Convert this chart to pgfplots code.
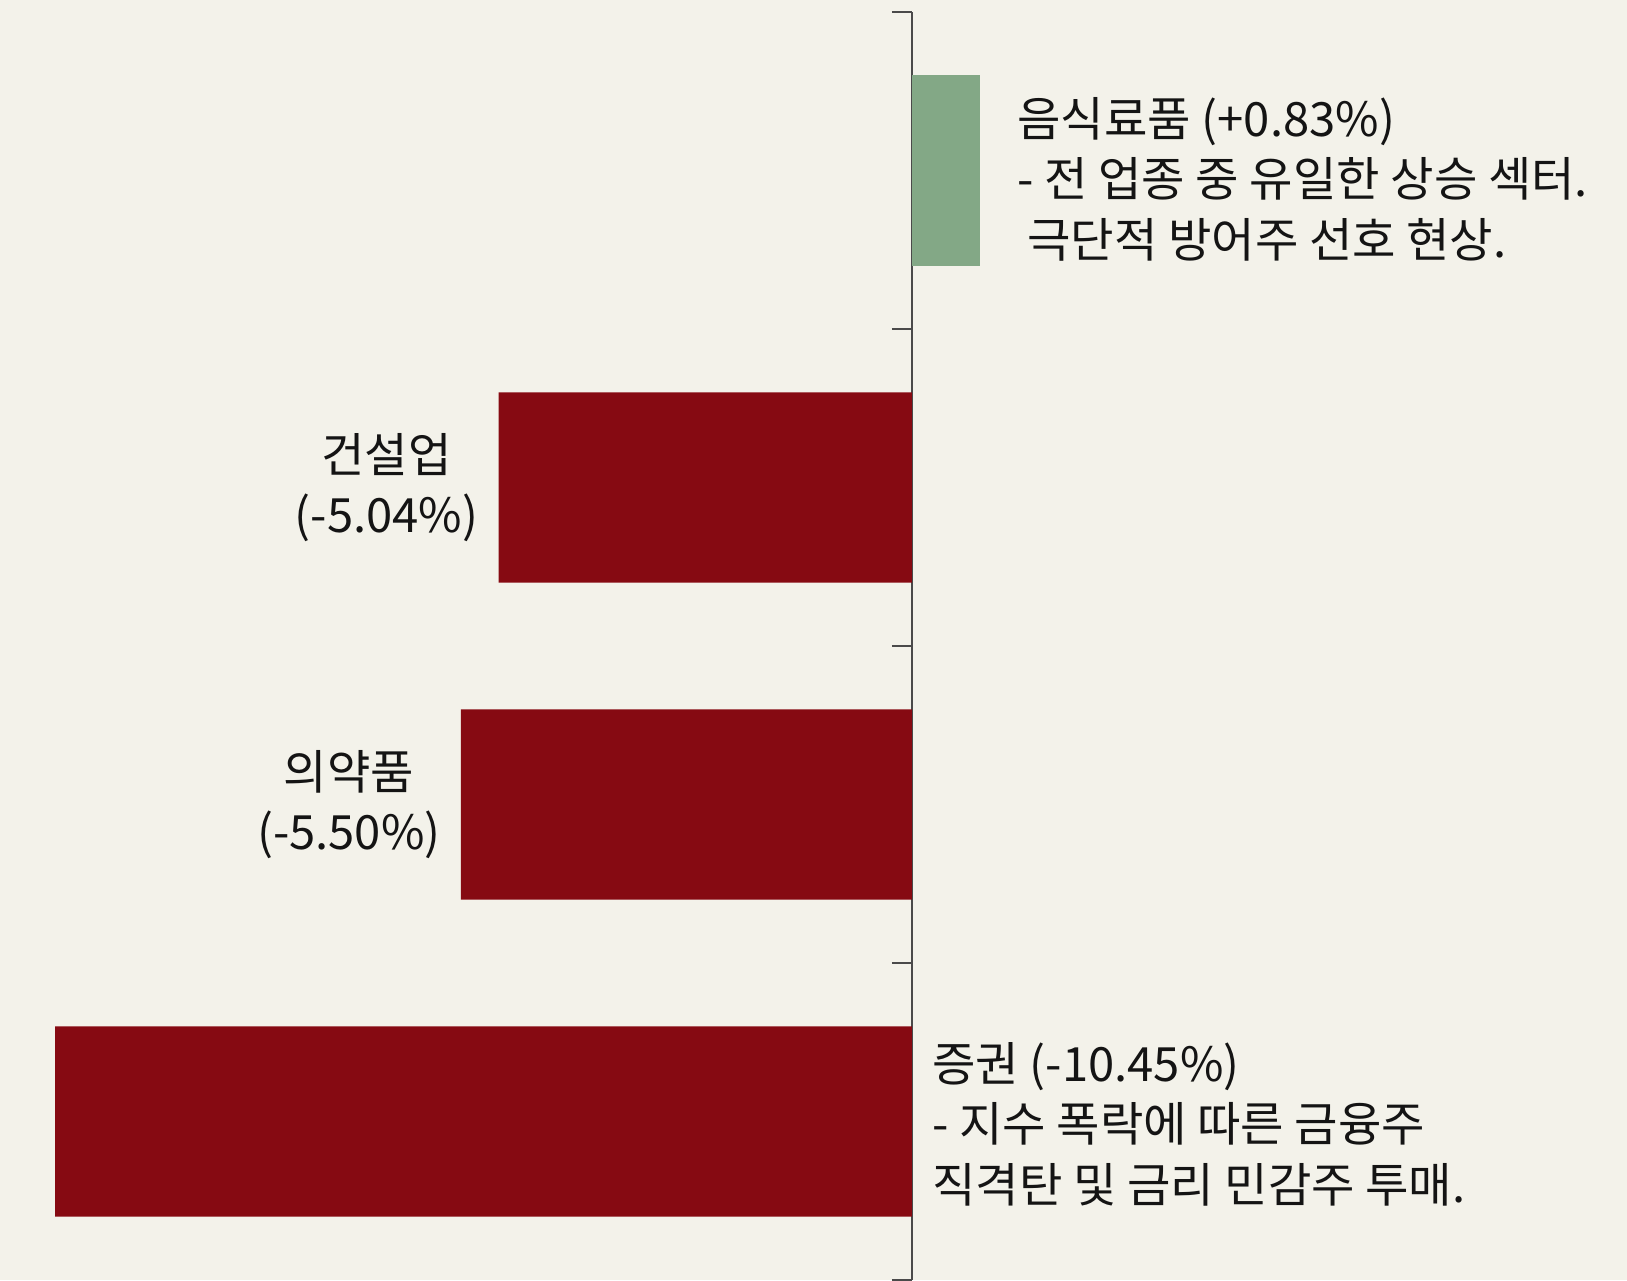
\documentclass[border=0pt]{standalone}
\usepackage{fontspec}
\usepackage{pgfplots}
\pgfplotsset{compat=1.18}
\newfontfamily\cjk{Noto Sans CJK KR}
\definecolor{bg}{HTML}{F3F2EA}
\definecolor{barred}{HTML}{860A12}
\definecolor{bargreen}{HTML}{83A886}
\definecolor{axisgray}{HTML}{4A4A4A}
\definecolor{txt}{HTML}{141414}
\tikzset{lbl/.style={font=\cjk\fontsize{23.6pt}{30.2pt}\selectfont, text=txt, inner sep=0pt}}
\begin{document}
\begin{tikzpicture}
\fill[bg] (0,0) rectangle (813.5pt,640pt);
\begin{axis}[
  at={(0pt,0pt)}, anchor=south west,
  scale only axis, width=813.5pt, height=634pt,
  xmin=-11.122, xmax=8.720,
  ymin=-0.5, ymax=3.5, y dir=reverse,
  axis x line=none, axis y line=middle,
  y axis line style={-, draw=axisgray, line width=1.4pt},
  ytick={-0.5,0.5,1.5,2.5,3.5}, yticklabels={},
  tick align=outside, major tick length=10pt,
  y tick style={draw=axisgray, line width=1.4pt},
  xbar, bar width=0.6, bar shift=0pt,
  clip=false,
]
\addplot[xbar, fill=bargreen, draw=none] coordinates {(0.83,0)};
\addplot[xbar, fill=barred, draw=none] coordinates {(-5.04,1) (-5.50,2) (-10.45,3)};
\node[lbl, anchor=west, align=left, xshift=18.5pt, yshift=-4.25pt] at (axis cs:0.83,0)
  {음식료품 (+0.83\%)\\- 전 업종 중 유일한 상승 섹터.\\\hspace*{5pt}극단적 방어주 선호 현상.};
\node[lbl, anchor=east, align=center, xshift=-10pt] at (axis cs:-5.04,1)
  {건설업\\(-5.04\%)};
\node[lbl, anchor=east, align=center, xshift=-10pt] at (axis cs:-5.50,2)
  {의약품\\(-5.50\%)};
\node[lbl, anchor=west, align=left, xshift=10pt, yshift=-1.25pt] at (axis cs:0,3)
  {증권 (-10.45\%)\\- 지수 폭락에 따른 금융주\\직격탄 및 금리 민감주 투매.};
\end{axis}
\pgfresetboundingbox
\useasboundingbox (0,0) rectangle (813.5pt,640pt);
\end{tikzpicture}
\end{document}
